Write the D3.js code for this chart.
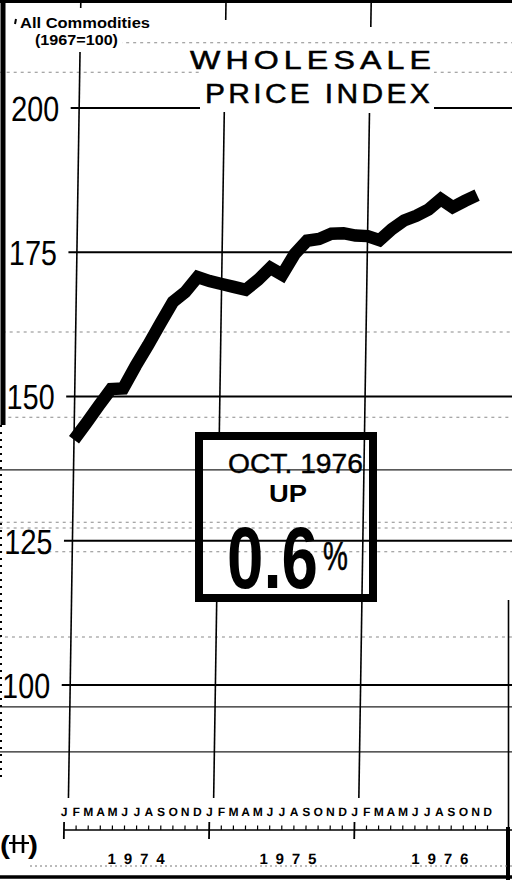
<!DOCTYPE html>
<html>
<head>
<meta charset="utf-8">
<script src="https://cdn.jsdelivr.net/npm/d3@7/dist/d3.min.js"></script>
<style>
  html, body { margin: 0; padding: 0; background: #fff; }
  svg { display: block; }
  text { font-family: "Liberation Sans", Arial, sans-serif; fill: #000; }
</style>
</head>
<body>
<svg id="chart" width="512" height="886"></svg>
<script>
// Wholesale price index, all commodities (1967=100), Jan 1974 .. Oct 1976
var monthLetters = ['J', 'F', 'M', 'A', 'M', 'J', 'J', 'A', 'S', 'O', 'N', 'D'];
var years = ['1974', '1975', '1976'];
var yTicks = [100, 125, 150, 175, 200];
var wpi = [
  142.5, 145.4, 148.4, 151.3, 151.4, 155.3, 158.9, 162.7, 166.4, 168.1, 170.7, 170.0,
  169.5, 169.0, 168.5, 170.2, 172.3, 171.1, 174.7, 177.0, 177.3, 178.2, 178.3, 177.9,
  177.8, 177.1, 179.0, 180.5, 181.3, 182.4, 184.2, 182.8, 183.9, 184.9
];
// extra printed rules, in index units
var solidRules = [137.3, 96.2, 88.4];
var dashedRules = [211.3, 206.2, 161.2, 146.4, 128.2, 127.2, 123.1, 108.3];

var svg = d3.select('#chart');

var y = d3.scaleLinear().domain([100, 200]).range([685, 108]);
var x = d3.scaleLinear().domain([0, 36]).range([74, 74 + 36 * 12.1]);

// the printed grid leans a little: shear it
var k = 0.0155;
var g = svg.append('g')
  .attr('transform', 'matrix(1,0,' + (-k) + ',1,' + (k * 440) + ',0)');

// faint dashed rules
g.selectAll('line.dash')
  .data(dashedRules)
  .enter().append('line')
    .attr('class', 'dash')
    .attr('x1', -20).attr('x2', 540)
    .attr('y1', function(d) { return y(d); })
    .attr('y2', function(d) { return y(d); })
    .attr('stroke', '#8a8a8a')
    .attr('stroke-width', 1)
    .attr('stroke-dasharray', '3,4');

// solid extra rules
g.selectAll('line.rule')
  .data(solidRules)
  .enter().append('line')
    .attr('class', 'rule')
    .attr('x1', -20).attr('x2', 540)
    .attr('y1', function(d) { return y(d); })
    .attr('y2', function(d) { return y(d); })
    .attr('stroke', '#222')
    .attr('stroke-width', 1.3);

// main gridlines
g.selectAll('line.grid')
  .data(yTicks)
  .enter().append('line')
    .attr('class', 'grid')
    .attr('x1', x(-0.7)).attr('x2', 540)
    .attr('y1', function(d) { return y(d); })
    .attr('y2', function(d) { return y(d); })
    .attr('stroke', '#000')
    .attr('stroke-width', 1.8);

// year verticals, with the gaps left for title, label and box
var yearLines = [
  { m: 0,  segs: [[3, 8], [52, 798]] },
  { m: 12, segs: [[0, 20], [112, 432], [602, 798]] },
  { m: 24, segs: [[0, 27], [113, 798]] }
];
yearLines.forEach(function(v) {
  g.selectAll(null)
    .data(v.segs)
    .enter().append('line')
      .attr('x1', x(v.m)).attr('x2', x(v.m))
      .attr('y1', function(s) { return s[0]; })
      .attr('y2', function(s) { return s[1]; })
      .attr('stroke', '#000')
      .attr('stroke-width', 1.6);
});

// knock-outs behind the title and the unit label
svg.append('rect').attr('x', 200).attr('y', 48).attr('width', 234).attr('height', 63).attr('fill', '#fff');
svg.append('rect').attr('x', 0).attr('y', 10).attr('width', 122).attr('height', 40).attr('fill', '#fff');

// y labels
g.selectAll('text.ylab')
  .data(yTicks)
  .enter().append('text')
    .attr('class', 'ylab')
    .attr('x', 6)
    .attr('y', function(d) { return y(d) + 13; })
    .attr('font-size', 35)
    .attr('textLength', 48)
    .attr('lengthAdjust', 'spacingAndGlyphs')
    .text(function(d) { return d; });

// month axis
var axisG = g.append('g').attr('transform', 'translate(-4,0)');
var months = d3.range(36);
axisG.selectAll('text.mon')
  .data(months)
  .enter().append('text')
    .attr('class', 'mon')
    .attr('x', function(m) { return x(m); })
    .attr('y', 816)
    .attr('text-anchor', 'middle')
    .attr('font-size', 12)
    .attr('font-weight', 'bold')
    .text(function(m) { return monthLetters[m % 12]; });

axisG.append('line')
  .attr('x1', x(0)).attr('x2', 540)
  .attr('y1', 830).attr('y2', 830)
  .attr('stroke', '#000').attr('stroke-width', 1.5);

axisG.selectAll('line.mtick')
  .data(months)
  .enter().append('line')
    .attr('class', 'mtick')
    .attr('x1', function(m) { return x(m); })
    .attr('x2', function(m) { return x(m); })
    .attr('y1', function(m) { return m % 12 === 0 ? 822 : 825.5; })
    .attr('y2', function(m) { return m % 12 === 0 ? 839 : 830; })
    .attr('stroke', '#000')
    .attr('stroke-width', function(m) { return m % 12 === 0 ? 1.8 : 1.2; });

axisG.selectAll('text.year')
  .data(years)
  .enter().append('text')
    .attr('class', 'year')
    .attr('x', function(d, i) { return x(12 * i + 6 + 0.55 * i); })
    .attr('y', 864)
    .attr('text-anchor', 'middle')
    .attr('font-size', 15)
    .attr('font-weight', 'bold')
    .attr('textLength', 57)
    .attr('lengthAdjust', 'spacing')
    .text(function(d) { return d; });

// the index line
var line = d3.line()
  .x(function(d, i) { return x(i); })
  .y(function(d) { return y(d); });

g.append('path')
  .datum(wpi)
  .attr('d', line)
  .attr('fill', 'none')
  .attr('stroke', '#000')
  .attr('stroke-width', 12.5)
  .attr('stroke-linejoin', 'miter')
  .attr('stroke-linecap', 'butt');

// frame
svg.append('line').attr('x1', 0).attr('x2', 512).attr('y1', 1.5).attr('y2', 1.5)
  .attr('stroke', '#000').attr('stroke-width', 3);
svg.append('line').attr('x1', 3).attr('x2', 3).attr('y1', 0).attr('y2', 425)
  .attr('stroke', '#000').attr('stroke-width', 5);
svg.append('line').attr('x1', 1).attr('x2', 1).attr('y1', 425).attr('y2', 780)
  .attr('stroke', '#000').attr('stroke-width', 2).attr('stroke-dasharray', '2,5');
svg.append('line').attr('x1', 508.5).attr('x2', 508.5).attr('y1', 600).attr('y2', 827)
  .attr('stroke', '#000').attr('stroke-width', 1.6);
svg.append('line').attr('x1', 508).attr('x2', 508).attr('y1', 827).attr('y2', 880)
  .attr('stroke', '#000').attr('stroke-width', 4);
svg.append('line').attr('x1', 30).attr('x2', 512).attr('y1', 866).attr('y2', 866)
  .attr('stroke', '#777').attr('stroke-width', 1).attr('stroke-dasharray', '2,3');
svg.append('line').attr('x1', 0).attr('x2', 512).attr('y1', 877).attr('y2', 877)
  .attr('stroke', '#000').attr('stroke-width', 3.5);

// unit label
svg.append('text').attr('x', 20).attr('y', 28)
  .attr('font-size', 14).attr('font-weight', 'bold')
  .attr('textLength', 130).attr('lengthAdjust', 'spacingAndGlyphs')
  .text('All Commodities');
svg.append('line').attr('x1', 16).attr('x2', 15).attr('y1', 19).attr('y2', 24)
  .attr('stroke', '#000').attr('stroke-width', 2);
svg.append('text').attr('x', 35).attr('y', 45)
  .attr('font-size', 14).attr('font-weight', 'bold')
  .attr('textLength', 83).attr('lengthAdjust', 'spacingAndGlyphs')
  .text('(1967=100)');

// title: wide, lightly spaced capitals, a touch heavier than regular
svg.append('text').attr('x', 190).attr('y', 69)
  .attr('font-size', 25)
  .attr('letter-spacing', 4)
  .attr('stroke', '#000').attr('stroke-width', 0.5)
  .attr('textLength', 246).attr('lengthAdjust', 'spacingAndGlyphs')
  .text('WHOLESALE');
svg.append('text').attr('x', 205).attr('y', 103)
  .attr('font-size', 27)
  .attr('letter-spacing', 3)
  .attr('stroke', '#000').attr('stroke-width', 0.5)
  .attr('textLength', 228).attr('lengthAdjust', 'spacingAndGlyphs')
  .text('PRICE INDEX');

// callout box
var box = svg.append('g');
box.append('rect')
  .attr('x', 199).attr('y', 436).attr('width', 174).attr('height', 162)
  .attr('fill', 'none').attr('stroke', '#000').attr('stroke-width', 8);
box.append('text').attr('x', 228).attr('y', 473)
  .attr('font-size', 27)
  .attr('stroke', '#000').attr('stroke-width', 0.4)
  .attr('textLength', 135).attr('lengthAdjust', 'spacingAndGlyphs')
  .text('OCT. 1976');
box.append('text').attr('x', 269).attr('y', 502)
  .attr('font-size', 24).attr('font-weight', 'bold')
  .attr('textLength', 38).attr('lengthAdjust', 'spacingAndGlyphs')
  .text('UP');
// big condensed figure: squeeze horizontally
box.append('text')
  .attr('transform', 'translate(227,588) scale(0.744,1)')
  .attr('font-size', 88).attr('font-weight', 'bold')
  .text('0.6');
box.append('text')
  .attr('transform', 'translate(323,570) scale(0.7,1)')
  .attr('font-size', 40)
  .attr('stroke', '#000').attr('stroke-width', 0.6)
  .text('%');

// little logo bottom left
var logo = svg.append('g');
logo.append('text').attr('x', 0).attr('y', 854).attr('font-size', 26).attr('font-weight', 'bold')
  .attr('textLength', 10).attr('lengthAdjust', 'spacingAndGlyphs').text('(');
logo.append('text').attr('x', 28).attr('y', 854).attr('font-size', 26).attr('font-weight', 'bold')
  .attr('textLength', 10).attr('lengthAdjust', 'spacingAndGlyphs').text(')');
[14, 23].forEach(function(px) {
  logo.append('line').attr('x1', px).attr('x2', px).attr('y1', 835).attr('y2', 853)
    .attr('stroke', '#000').attr('stroke-width', 2.6);
});
logo.append('line').attr('x1', 9).attr('x2', 29).attr('y1', 843).attr('y2', 843)
  .attr('stroke', '#000').attr('stroke-width', 2);
</script>
</body>
</html>
